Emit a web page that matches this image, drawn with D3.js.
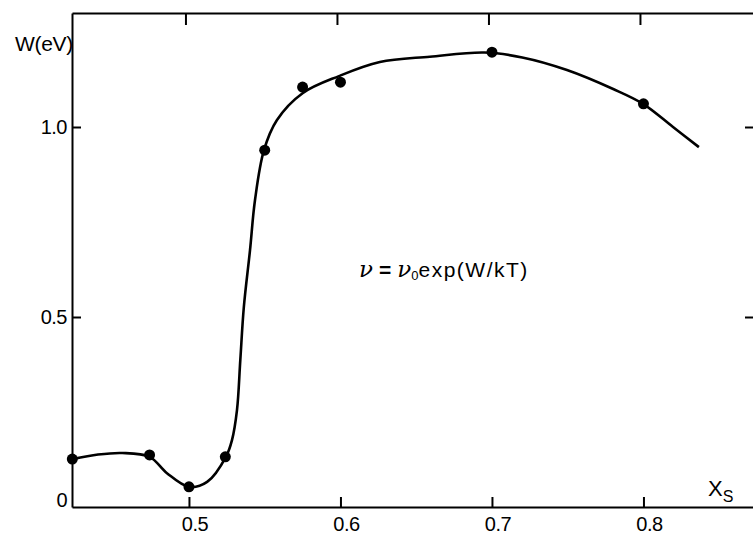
<!DOCTYPE html>
<html>
<head>
<meta charset="utf-8">
<script src="https://cdn.jsdelivr.net/npm/d3@7"></script>
<style>
  body { margin: 0; background: #fff; overflow: hidden; }
  svg { display: block; }
  .lbl { font-family: "Liberation Sans", Arial, sans-serif; fill: #000; }
</style>
</head>
<body>
<div id="chart"></div>
<script>
// measured points (composition x_s, activation energy W in eV)
var xs = [0.423, 0.474, 0.5, 0.524, 0.55, 0.575, 0.6, 0.7, 0.8];
var W  = [0.126, 0.137, 0.053, 0.132, 0.939, 1.105, 1.118, 1.197, 1.061];

// hand drawn fit curve
var curveX = [0.423, 0.44, 0.456, 0.474, 0.4855, 0.5, 0.512, 0.5244, 0.5284, 0.5317, 0.5339, 0.5362, 0.5403, 0.5436, 0.5495, 0.558, 0.575, 0.599, 0.626, 0.659, 0.695, 0.72, 0.7495, 0.78, 0.7997, 0.8195, 0.8366];
var curveW = [0.126, 0.138, 0.142, 0.132, 0.089, 0.053, 0.066, 0.132, 0.176, 0.255, 0.387, 0.525, 0.676, 0.808, 0.939, 1.018, 1.089, 1.134, 1.171, 1.185, 1.196, 1.183, 1.150, 1.10, 1.061, 1.0, 0.947];

var xTicks = [0.5, 0.6, 0.7, 0.8];
var yTicks = [0, 0.5, 1.0];

var width = 753, height = 535;
var margin = { top: 13, right: 0, bottom: 28, left: 72 };

var svg = d3.select("#chart")
    .append("svg")
    .attr("width", width)
    .attr("height", height);

var x = d3.scaleLinear()
    .domain([0.4228, 0.4228 + (width - margin.left) / 1515])
    .range([margin.left, width - margin.right]);

var y = d3.scaleLinear()
    .domain([0, 1.3])
    .range([height - margin.bottom, margin.top]);

// axes with inward ticks, labels placed by hand below
var axBottom = svg.append("g")
    .attr("transform", "translate(0," + y(0) + ")")
    .call(d3.axisBottom(x).tickValues(xTicks).tickSize(-10).tickSizeOuter(0).tickFormat(""));
var axTop = svg.append("g")
    .attr("transform", "translate(0," + y(1.3) + ")")
    .call(d3.axisTop(x).tickValues(xTicks).tickSize(-12).tickSizeOuter(0).tickFormat(""));
var axLeft = svg.append("g")
    .attr("transform", "translate(" + x.range()[0] + ",0)")
    .call(d3.axisLeft(y).tickValues([0.5, 1.0]).tickSize(-9).tickSizeOuter(0).tickFormat(""));
var axRight = svg.append("g")
    .attr("transform", "translate(" + (width + 1) + ",0)")
    .call(d3.axisRight(y).tickValues([0.5, 1.0]).tickSize(-9).tickSizeOuter(0).tickFormat(""));

svg.selectAll(".domain").attr("stroke", "#000").attr("stroke-width", 2);
svg.selectAll(".tick line").attr("stroke", "#000").attr("stroke-width", 2);
axRight.select(".domain").remove();
axTop.selectAll(".tick").attr("transform", function (d) { return "translate(" + (x(d) - 3) + ",0)"; });

// tick labels
svg.selectAll(".xl")
    .data(xTicks)
    .enter()
    .append("text")
    .attr("class", "lbl")
    .attr("x", function (d) { return x(d) + 6; })
    .attr("y", 531)
    .attr("text-anchor", "middle")
    .attr("font-size", 20)
    .attr("letter-spacing", -0.5)
    .text(function (d) { return d.toFixed(1); });

svg.selectAll(".yl")
    .data(yTicks)
    .enter()
    .append("text")
    .attr("class", "lbl")
    .attr("x", 67)
    .attr("y", function (d) { return y(d) + (d === 0 ? 0 : 7); })
    .attr("text-anchor", "end")
    .attr("font-size", 20)
    .attr("letter-spacing", -0.5)
    .text(function (d) { return d === 0 ? "0" : d.toFixed(1); });

svg.append("text")
    .attr("class", "lbl")
    .attr("x", 73)
    .attr("y", 51)
    .attr("text-anchor", "end")
    .attr("font-size", 21)
    .attr("letter-spacing", -0.3)
    .text("W(eV)");

var xl = svg.append("text")
    .attr("class", "lbl")
    .attr("x", 708)
    .attr("y", 496)
    .attr("font-size", 22);
xl.append("tspan").text("X");
xl.append("tspan").attr("font-size", 16).attr("dy", 6).text("S");

// formula
var f = svg.append("text")
    .attr("class", "lbl")
    .attr("x", 359)
    .attr("y", 277)
    .attr("font-size", 21);
f.append("tspan").attr("font-family", "DejaVu Serif, serif").attr("font-style", "italic").attr("font-size", 23).text("ν");
f.append("tspan").attr("dx", 6).attr("font-weight", "bold").text("=");
f.append("tspan").attr("dx", 6).attr("font-family", "DejaVu Serif, serif").attr("font-style", "italic").attr("font-size", 23).text("ν");
f.append("tspan").attr("font-size", 13).attr("dy", 3).text("0");
f.append("tspan").attr("dy", -3).attr("letter-spacing", 1.5).text("exp(W/kT)");

// fit line
var line = d3.line()
    .x(function (d) { return x(d[0]); })
    .y(function (d) { return y(d[1]); })
    .curve(d3.curveCatmullRom.alpha(0.5));

svg.append("path")
    .datum(d3.zip(curveX, curveW))
    .attr("d", line)
    .attr("fill", "none")
    .attr("stroke", "#000")
    .attr("stroke-width", 2.6);

svg.selectAll(".pt")
    .data(d3.zip(xs, W))
    .enter()
    .append("circle")
    .attr("cx", function (d) { return x(d[0]); })
    .attr("cy", function (d) { return y(d[1]); })
    .attr("r", 5.5)
    .attr("fill", "#000");
</script>
</body>
</html>
